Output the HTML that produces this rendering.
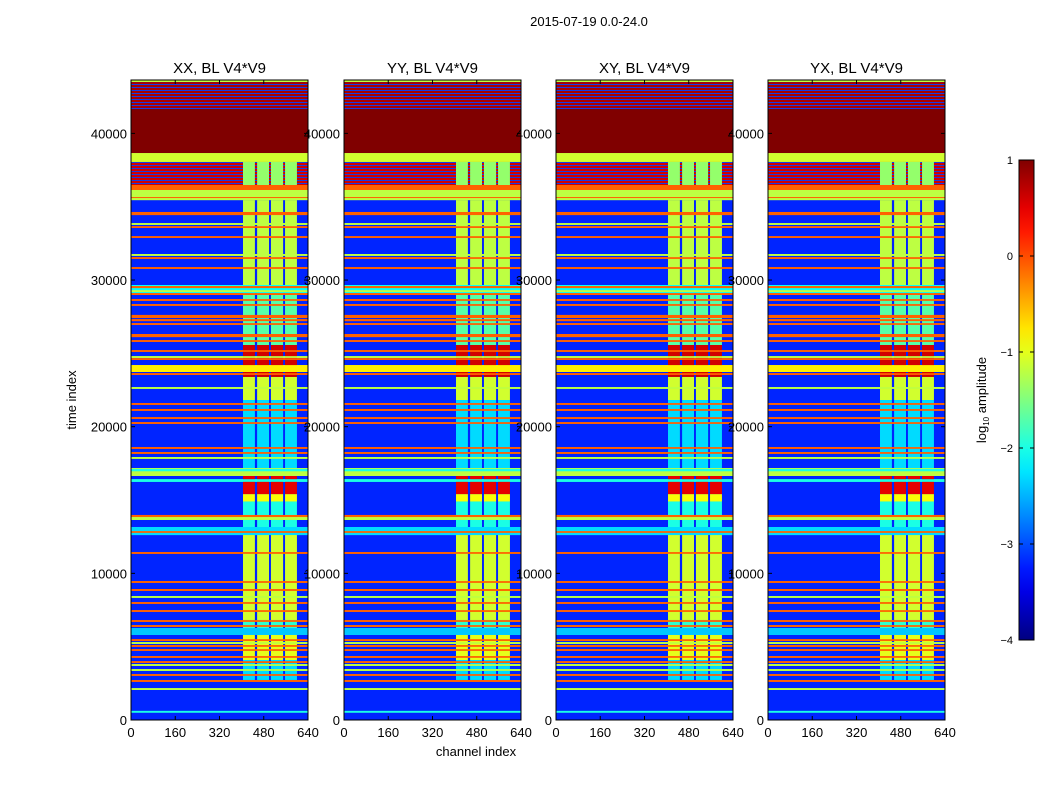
<!DOCTYPE html>
<html><head><meta charset="utf-8">
<style>
html,body{margin:0;padding:0;background:#fff;}
svg{display:block;font-family:"Liberation Sans","DejaVu Sans",sans-serif;}
</style></head>
<body>
<svg id="fig" width="1050" height="800" viewBox="0 0 1050 800" xmlns="http://www.w3.org/2000/svg">
<defs>
<pattern id="hatch" width="4" height="3" patternUnits="userSpaceOnUse">
<rect x="0" y="0" width="4" height="1" fill="rgb(20,60,230)"/>
</pattern>
</defs>
<rect width="1050" height="800" fill="#fff"/>
<text x="589" y="26" font-size="13" text-anchor="middle">2015-07-19 0.0-24.0</text>
<g id="panels"></g>
<text x="0" y="0" font-size="13" text-anchor="middle" transform="translate(76,400) rotate(-90)">time index</text>
<text x="476" y="756" font-size="13" text-anchor="middle">channel index</text>
<g id="cbar"></g>
<text font-size="13" text-anchor="middle" transform="translate(986,400) rotate(-90)">log<tspan font-size="8" dy="3">10</tspan><tspan dy="-3"> amplitude</tspan></text>
</svg>
<script>
// ---- data ----
const panelTitles = ["XX, BL V4*V9","YY, BL V4*V9","XY, BL V4*V9","YX, BL V4*V9"];
const xTicks = [0,160,320,480,640];
const yTicks = [0,10000,20000,30000,40000];
const cbTicks = [1,0,-1,-2,-3,-4];
const tMax = 43640, chMax = 640, vMin = -4, vMax = 1;
const backgroundLevel = -3.2;
// vertical RFI stripe channel ranges
const stripeStart = [405,456,506,557];
const stripeEnd = [448,499,550,600];
// stripe intensity per time region
const regStart = [36480,29660,25570,23390,21820,16640,15400,14900,13160,6820,5800,4090,2730];
const regEnd   = [38050,35450,29660,25570,23390,21820,16640,15400,14900,13160,6820,5800,4090];
const regLevel = [-1.4,-1.2,-1.7,0.6,-1.1,-2.3,0.5,-0.9,-2.0,-1.1,-1.9,-1.0,-2.3];
// horizontal bands (full width); hatched bands are dense alternating RFI lines
const bandStart = [43500,41660,38660,38050,36480,36140,35450,35590,34430,33760,33550,32870,31650,31440,30760,29110,29450,29180,28980,28580,28240,27410,27200,26940,26110,25780,25100,24690,24550,23730,23530,22580,21490,21080,20530,20190,18490,18150,17810,16640,16960,16240,13640,13840,12610,12760,11330,9350,8800,8330,7920,7370,6690,6350,5800,5390,5190,4990,4710,4240,3890,3690,3350,3010,2600,2050,500];
const bandEnd   = [43640,43500,41660,38660,38050,36480,36140,35660,34640,33880,33670,32990,31770,31560,30880,29660,29590,29310,29110,28700,28360,27620,27330,27060,26320,25900,25220,24810,24670,24200,23650,22700,21610,21200,20650,20310,18610,18270,17930,17180,17120,16420,13910,13980,13160,12880,11450,9470,8930,8450,8040,7490,6810,6470,6270,5510,5310,5110,4830,4360,4010,3810,3470,3130,2720,2170,620];
const bandLevel = [-1.2,0.8,1,-1.1,0.6,-0.1,-1.2,-0.1,-0.1,-1.2,-0.1,-0.1,-1.2,-0.1,-0.1,-2.1,-0.1,-1.2,-0.1,-0.1,-0.1,-0.1,-0.1,-0.1,-0.1,-0.1,-0.1,-1.2,-0.1,-0.8,-0.1,-1.2,-0.1,-0.1,-0.1,-0.1,-0.1,-0.1,-1.2,-1.2,-2,-2,-1.2,-0.1,-2.3,-0.1,-0.1,-0.1,-0.1,-1.2,-0.1,-0.1,-0.1,-0.1,-2.4,-0.1,-1.2,-0.1,-0.1,-0.1,-0.1,-1.2,-1.2,-0.1,-0.1,-1.2,-2];
const bandHatched = [1,2,4]; // indices of bands with interleaved blue lines

// ---- helpers ----
const NS="http://www.w3.org/2000/svg";
function jet(v){
  let x=(v-vMin)/(vMax-vMin); x=Math.max(0,Math.min(1,x));
  const c=t=>Math.round(255*Math.max(0,Math.min(1,t)));
  const r=c(1.5-Math.abs(4*x-3)), g=c(1.5-Math.abs(4*x-2)), b=c(1.5-Math.abs(4*x-1));
  return `rgb(${r},${g},${b})`;
}
function el(tag,attrs,parent){const e=document.createElementNS(NS,tag);for(const k in attrs)e.setAttribute(k,attrs[k]);parent.appendChild(e);return e;}
const panelLeft=[131,344,556,768], pW=177, pTop=80, pBot=720;
const panelsG=document.getElementById('panels');

panelLeft.forEach((L,pi)=>{
  const xS=ch=>L+ch/chMax*pW;
  const yS=t=>pBot-t/tMax*(pBot-pTop);
  const g=el('g',{},panelsG);
  
  
  const bg=el('rect',{x:L,y:pTop,width:pW,height:pBot-pTop,fill:jet(backgroundLevel)},g);
  
  
  for(let b=0;b<bandStart.length;b++){
    const e=el('rect',{x:L,y:yS(bandEnd[b]),width:pW,height:Math.max(1,yS(bandStart[b])-yS(bandEnd[b])),fill:jet(bandLevel[b])},g);
    
    
    if(bandHatched.includes(b) && b!==2){
      const h=el('rect',{x:L,y:yS(bandEnd[b]),width:pW,height:yS(bandStart[b])-yS(bandEnd[b]),fill:'url(#hatch)'},g);
      
      
    }
  }
  for(let r=0;r<regStart.length;r++){
    for(let s=0;s<stripeStart.length;s++){
      const e=el('rect',{x:xS(stripeStart[s]),y:yS(regEnd[r]),width:xS(stripeEnd[s])-xS(stripeStart[s]),height:yS(regStart[r])-yS(regEnd[r]),fill:jet(regLevel[r])},g);
      
      
    }
  }
  // re-draw thin full-width lines over stripes (except hatched bands)
  for(let b=5;b<bandStart.length;b++){
    const e=el('rect',{x:L,y:yS(bandEnd[b]),width:pW,height:Math.max(1,yS(bandStart[b])-yS(bandEnd[b])),fill:jet(bandLevel[b])},g);
    
    
  }
  const fr=el('rect',{x:L,y:pTop,width:pW,height:pBot-pTop,fill:'none',stroke:'#000','stroke-width':1},g);
  
  
  xTicks.forEach(v=>{
    const x=xS(v);
    el('line',{x1:x,y1:pBot,x2:x,y2:pBot-4,stroke:'#000'},g);
    el('line',{x1:x,y1:pTop,x2:x,y2:pTop+4,stroke:'#000'},g);
    const t=el('text',{x:x,y:pBot+17,'font-size':13,'text-anchor':'middle'},g);
    t.textContent=v;
    
    
  });
  yTicks.forEach(v=>{
    const y=yS(v);
    el('line',{x1:L,y1:y,x2:L+4,y2:y,stroke:'#000'},g);
    el('line',{x1:L+pW,y1:y,x2:L+pW-4,y2:y,stroke:'#000'},g);
    const t=el('text',{x:L-4,y:y+5,'font-size':13,'text-anchor':'end'},g);
    t.textContent=v;
    
    
  });
  const tt=el('text',{x:L+pW/2,y:73,'font-size':15,'text-anchor':'middle'},g);
  tt.textContent=panelTitles[pi];
  
  
});

// colorbar
const cb=document.getElementById('cbar');


const cbX=1019,cbW=15,cbTop=160,cbBot=640;
const defs=el('defs',{},cb);
const grad=el('linearGradient',{id:'jetg',x1:0,y1:1,x2:0,y2:0},defs);
for(let i=0;i<=20;i++){el('stop',{offset:i/20,'stop-color':jet(vMin+(vMax-vMin)*i/20)},grad);}
el('rect',{x:cbX,y:cbTop,width:cbW,height:cbBot-cbTop,fill:'url(#jetg)',stroke:'#000'},cb);
cbTicks.forEach(v=>{
  const y=cbBot-(v-vMin)/(vMax-vMin)*(cbBot-cbTop);
  el('line',{x1:cbX,y1:y,x2:cbX+4,y2:y,stroke:'#000'},cb);
  el('line',{x1:cbX+cbW,y1:y,x2:cbX+cbW-4,y2:y,stroke:'#000'},cb);
  const t=el('text',{x:cbX-6,y:y+4,'font-size':11,'text-anchor':'end'},cb);
  t.textContent=v<0?'\u2212'+(-v):v;
  
  
});
</script>
</body></html>
